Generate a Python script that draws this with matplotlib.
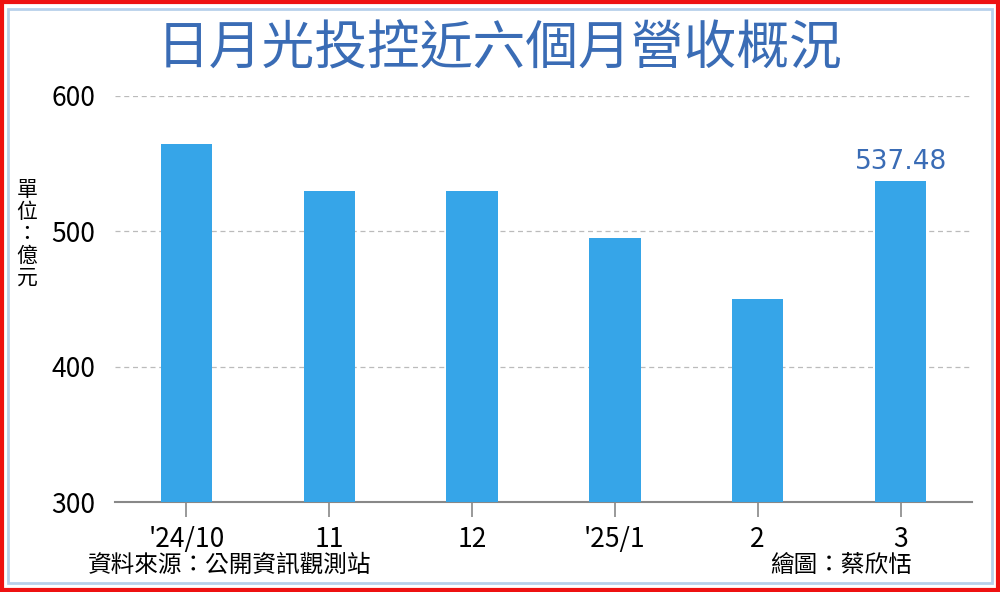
import matplotlib.pyplot as plt
from matplotlib.patches import Rectangle

plt.rcParams['font.family'] = ['Noto Sans CJK TC', 'DejaVu Sans']

months = ["'24/10", '11', '12', "'25/1", '2', '3']
revenue = [564.5, 529.8, 529.8, 495.1, 450.0, 537.48]

fig = plt.figure(figsize=(10, 5.92), dpi=100)
ax = fig.add_axes([0.115, 0.152, 0.857, 0.686])

x = range(len(months))
ax.bar(x, revenue, width=0.36, color='#36a5e8', zorder=3)
ax.text(5, revenue[5] + 4, f'{revenue[5]:.2f}', ha='center', va='bottom',
        fontsize=19, color='#3a6cb5', family=['DejaVu Sans'])

ax.set_ylim(300, 600)
ax.set_xlim(-0.5, 5.5)
ax.set_yticks([300, 400, 500, 600])
ax.set_xticks(list(x))
ax.set_xticklabels(months, fontsize=19)
ax.tick_params(axis='y', length=0, labelsize=19, pad=14)
ax.tick_params(axis='x', length=11, width=1.2, color='#888888', pad=6)
ax.grid(axis='y', linestyle=(0, (4, 3)), color='#bbbbbb', linewidth=0.9)
for s in ['top', 'right', 'left']:
    ax.spines[s].set_visible(False)
ax.spines['bottom'].set_color('#888888')
ax.spines['bottom'].set_linewidth(1.5)

fig.text(0.5, 0.918, '日月光投控近六個月營收概況', ha='center', va='center',
         fontsize=38, fontweight='medium', color='#3a6cb5')
fig.text(0.027, 0.605, '\n'.join('單位：億元'), ha='center', va='center',
         fontsize=15, linespacing=1.0)
fig.text(0.088, 0.045, '資料來源：公開資訊觀測站', ha='left', va='center', fontsize=17)
fig.text(0.912, 0.045, '繪圖：蔡欣恬', ha='right', va='center', fontsize=17)

fig.patches.append(Rectangle((0.002, 0.003), 0.996, 0.994, transform=fig.transFigure,
                             fill=False, edgecolor='#ee1111', linewidth=3))
fig.patches.append(Rectangle((0.008, 0.015), 0.984, 0.97, transform=fig.transFigure,
                             fill=False, edgecolor='#b8d0ea', linewidth=2))

fig.savefig('out.png', dpi=100)
